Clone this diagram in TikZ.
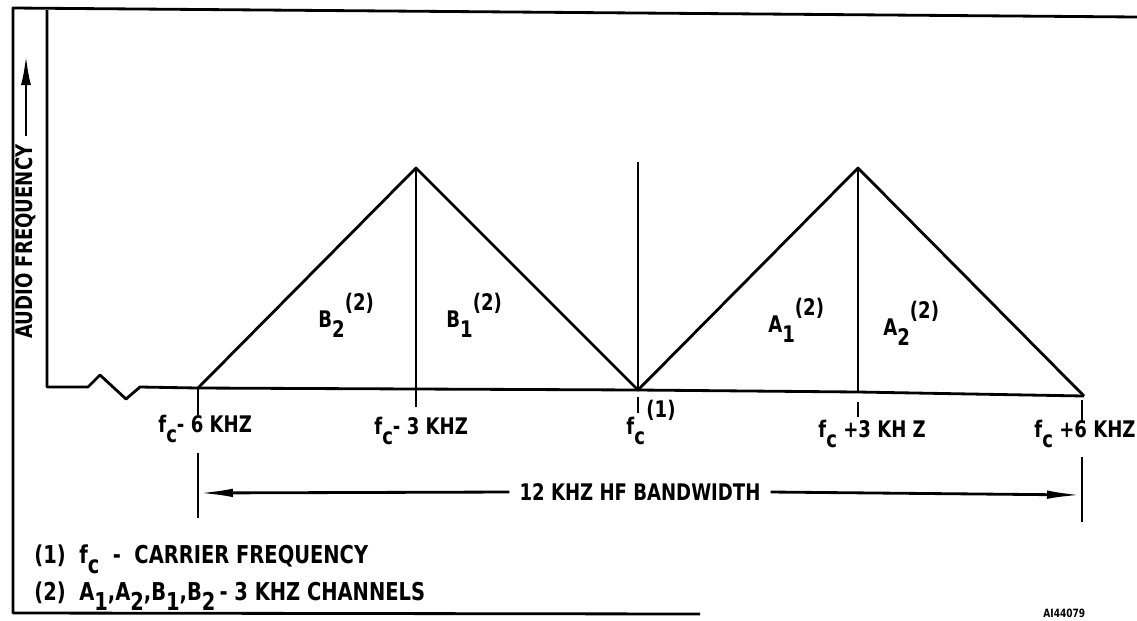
\documentclass[tikz,border=0pt]{standalone}
\usepackage{fontspec}
\setmainfont{DejaVu Sans Condensed Bold}[FakeStretch=0.88]
\usetikzlibrary{arrows.meta}
\newcommand{\subtx}[1]{\raisebox{-0.8ex}{#1}}
\newcommand{\suptx}[1]{\raisebox{1.3ex}{#1}}
\tikzset{
  lbl/.style={anchor=base west,inner sep=0pt,font=\fontsize{13}{15}\selectfont},
  legend/.style={anchor=base west,inner sep=0pt,font=\fontsize{14}{16}\selectfont},
  bwarrow/.style={-{Latex[length=0.7cm,width=0.17cm]}},
}
\begin{document}
\begin{tikzpicture}[x=0.02cm,y=-0.02cm,line width=1.6pt,line join=round]
    \useasboundingbox (0,0) rectangle (1137,620);

    % frame
    \draw (1137,17) -- (13,8) -- (13,613) -- (700,614);

    % axis with break
    \coordinate (top) at (47,10);
    \coordinate (o) at (47,387);
    \coordinate (m6) at (198,388);
    \coordinate (m3) at (416,389);
    \coordinate (fc) at (638,390);
    \coordinate (p3) at (858,392);
    \coordinate (p6) at (1084,396);
    \draw (top) -- (o) -- (88,387) -- (100,375) -- (126,399) -- (140,387) -- (m6)
        -- (m3) -- (fc) -- (p3) -- (p6);

    % sidebands
    \coordinate (pkB) at (416,168);
    \coordinate (pkA) at (858,168);
    \coordinate (fctop) at (638,162);
    \draw (m6) -- (pkB) -- (fc) -- (pkA) -- (p6);
    \draw (pkB) -- (416,407);
    \draw (pkA) -- (p3);
    \draw (fctop) -- (fc);

    % ticks
    \foreach \px/\ya/\yb in {198/388/415, 638/397/413, 858/402/417, 1082/400/422}{
        \draw (\px,\ya) -- (\px,\yb);
    }

    % frequency labels
    \node[lbl] (lm6) at (157,432) {f\subtx{c}- 6 KHZ};
    \node[lbl] (lm3) at (373,434) {f\subtx{c}- 3 KHZ};
    \node[lbl] (lfc) at (625,434) {f\subtx{c}};
    \node[lbl] (lfcn) at (645,417) {(1)};
    \node[lbl] (lp3) at (817,437) {f\subtx{c} +3 KH Z};
    \node[lbl] (lp6) at (1033,437) {f\subtx{c} +6 KHZ};

    % channel labels
    \node[lbl] (chB2) at (317,327) {B\subtx{2}\suptx{(2)}};
    \node[lbl] (chB1) at (445,327) {B\subtx{1}\suptx{(2)}};
    \node[lbl] (chA1) at (767,332) {A\subtx{1}\suptx{(2)}};
    \node[lbl] (chA2) at (882,335) {A\subtx{2}\suptx{(2)}};

    % vertical axis label
    \node[lbl,anchor=west,rotate=90,inner sep=4pt] (af) at (26,347) {AUDIO FREQUENCY};
    \coordinate (aftip) at (26,55);
    \draw[-{Latex[length=0.6cm,width=0.2cm]}] (af.east) -- (aftip);

    % bandwidth
    \draw (198,453) -- (198,518);
    \draw (1082,457) -- (1082,522);
    \node[lbl,anchor=center,inner sep=5pt] (bw) at (640,492) {12 KHZ HF BANDWIDTH};
    \coordinate (bwL) at (198,493);
    \coordinate (bwR) at (1082,495);
    \draw[bwarrow] (bw.west) -- (bwL);
    \draw[bwarrow] (bw.east) -- (bwR);

    % legend
    \node[legend] (note1) at (33,563) {(1)\ \ f\subtx{c}\ \ -\ \ CARRIER FREQUENCY};
    \node[legend] (note2) at (33,600) {(2)\ \ A\subtx{1},A\subtx{2},B\subtx{1},B\subtx{2}\,-\ 3\ KHZ\ CHANNELS};

    \node[anchor=base west,inner sep=0pt,font=\fontsize{6.5}{7}\selectfont] (fig) at (1042,617) {AI44079};
\end{tikzpicture}
\end{document}
